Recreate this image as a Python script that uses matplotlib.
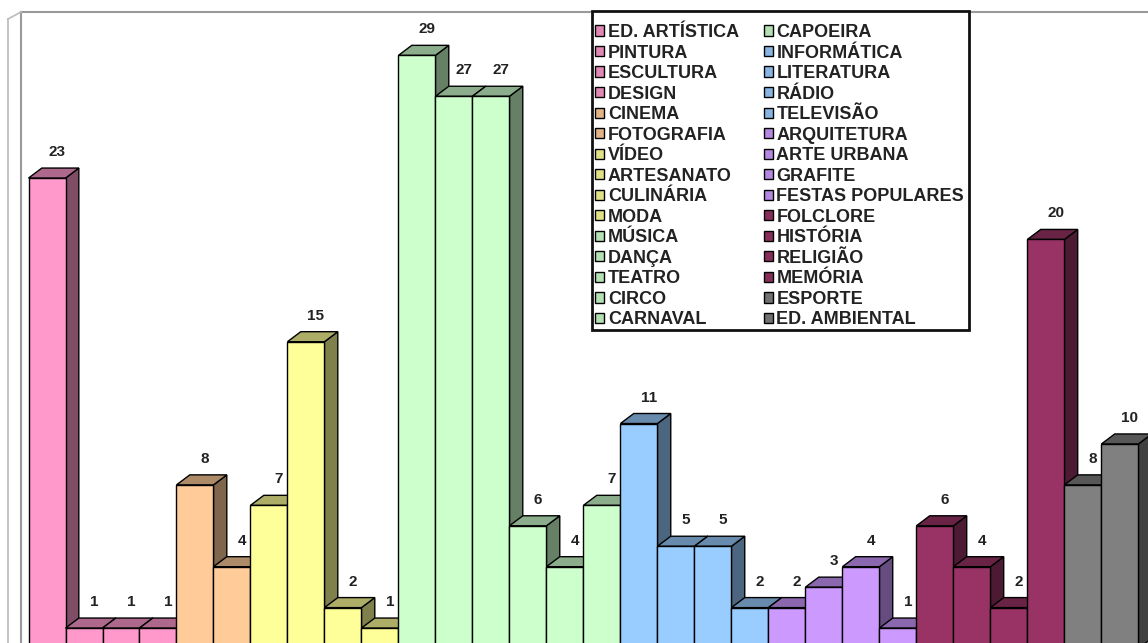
import matplotlib
matplotlib.use("Agg")
import matplotlib.pyplot as plt
from matplotlib.colors import to_rgb
from matplotlib.lines import Line2D
from matplotlib.patches import Patch, Polygon, Rectangle

CATEGORIES = [
    "ED. ARTÍSTICA", "PINTURA", "ESCULTURA", "DESIGN", "CINEMA", "FOTOGRAFIA",
    "VÍDEO", "ARTESANATO", "CULINÁRIA", "MODA", "MÚSICA", "DANÇA", "TEATRO",
    "CIRCO", "CARNAVAL", "CAPOEIRA", "INFORMÁTICA", "LITERATURA", "RÁDIO",
    "TELEVISÃO", "ARQUITETURA", "ARTE URBANA", "GRAFITE", "FESTAS POPULARES",
    "FOLCLORE", "HISTÓRIA", "RELIGIÃO", "MEMÓRIA", "ESPORTE", "ED. AMBIENTAL",
]
VALUES = [23, 1, 1, 1, 8, 4, 7, 15, 2, 1, 29, 27, 27, 6, 4, 7,
          11, 5, 5, 2, 2, 3, 4, 1, 6, 4, 2, 20, 8, 10]

PINK, ORANGE, YELLOW, GREEN = "#FF99CC", "#FFCC99", "#FFFF99", "#CCFFCC"
BLUE, PURPLE, MAROON, GREY = "#99CCFF", "#CC99FF", "#993366", "#808080"
COLORS = ([PINK] * 4 + [ORANGE] * 2 + [YELLOW] * 4 + [GREEN] * 6 +
          [BLUE] * 4 + [PURPLE] * 4 + [MAROON] * 4 + [GREY] * 2)

W, H = 1148, 643
DX, DY = 0.36, 0.49  # fake 3d depth, in data units


def shade(c, f):
    return tuple(v * f for v in to_rgb(c))


plt.rcParams["font.family"] = ["Liberation Sans", "DejaVu Sans"]
plt.rcParams["font.weight"] = "bold"

fig = plt.figure(figsize=(W / 100, H / 100), dpi=100)
ax = fig.add_axes([21 / W, 0, 1 - 21 / W, 631 / H])
ax.set_xlim(-0.703, 29.76)
ax.set_ylim(0.27, 31.12)

bars = ax.bar(range(len(VALUES)), VALUES, width=1.0, color=COLORS,
              edgecolor="black", linewidth=1.0)
for k, (b, v, c) in enumerate(zip(bars, VALUES, COLORS)):
    x0, x1, h = b.get_x(), b.get_x() + b.get_width(), b.get_height()
    b.set_zorder(3 * k + 3)
    side = Polygon([(x1, 0), (x1 + DX, DY), (x1 + DX, h + DY), (x1, h)],
                   facecolor=shade(c, 0.5), edgecolor="black", lw=1.0, zorder=3 * k + 1)
    top = Polygon([(x0, h), (x1, h), (x1 + DX, h + DY), (x0 + DX, h + DY)],
                  facecolor=shade(c, 0.68), edgecolor="black", lw=1.0, zorder=3 * k + 2)
    ax.add_patch(side); ax.add_patch(top)
    ax.annotate(str(v), (b.get_x() + 0.5 + DX * 0.75, h + DY), xytext=(0, 11.5),
                textcoords="offset points", ha="center", va="center",
                fontsize=11, color="#222222", zorder=200)

# chart frame: grey back wall edges
ax.set_xticks([]); ax.set_yticks([])
for s in ("right", "bottom"):
    ax.spines[s].set_visible(False)
for s in ("left", "top"):
    ax.spines[s].set_color("#999999"); ax.spines[s].set_linewidth(1.5)
fig.add_artist(Line2D([8 / W, 8 / W], [0, 1 - 19 / H], color="#bbbbbb", lw=1.2))
fig.add_artist(Line2D([8 / W, 21 / W], [1 - 19 / H, 1 - 12 / H], color="#bbbbbb", lw=1.2))

# legend box drawn separately so its padding matches the original
box = Rectangle((592 / W, 1 - 330 / H), 377 / W, 319 / H, transform=fig.transFigure,
                facecolor="white", edgecolor="#111111", lw=2, zorder=250, clip_on=False)
ax.add_patch(box)
handles = [Patch(facecolor=shade(c, 0.88), edgecolor="black", lw=1.0) for c in COLORS]
leg = ax.legend(handles, CATEGORIES, ncol=2, loc="upper left",
                bbox_to_anchor=(595 / W, 1 - 24 / H), bbox_transform=fig.transFigure,
                borderaxespad=0, borderpad=0, frameon=False,
                prop={"family": "Liberation Sans", "weight": "bold", "size": 13},
                handlelength=0.5, handleheight=0.5, handletextpad=0.22,
                labelspacing=0.195, columnspacing=1.35)
leg.set_zorder(300)
for t in leg.get_texts():
    t.set_color("#222222")

fig.savefig("out.png", dpi=100)
